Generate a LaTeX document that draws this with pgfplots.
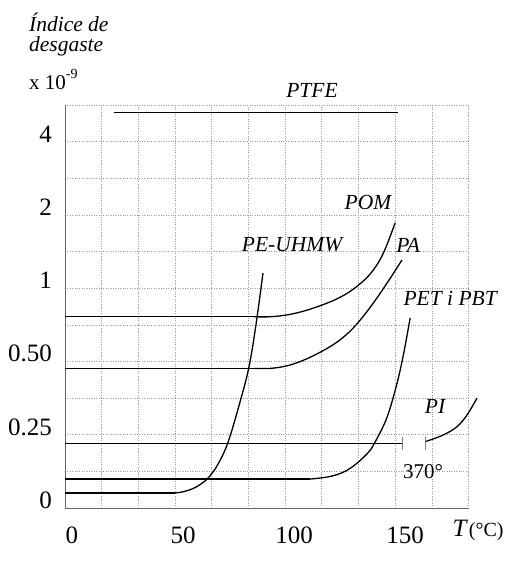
\documentclass[border=0pt]{standalone}
\usepackage{fontspec}
\setmainfont{Liberation Serif}
\usepackage{pgfplots}
\pgfplotsset{compat=1.18}

% y positions are in grid steps: 0 -> 0, 0.25 -> 2, 0.50 -> 4, 1 -> 6, 2 -> 8, 4 -> 10
\newcommand{\lab}{\fontsize{21.5}{26}\selectfont\itshape}

\begin{document}
\begin{tikzpicture}
\begin{axis}[
    width=403.5pt, height=403pt, scale only axis,
    xmin=-3.15, xmax=178.57, ymin=0, ymax=11,
    axis x line*=bottom, axis y line*=left,
    axis line style={-, draw=gray!80!black, line width=0.9pt},
    xtick={0,50,100,150}, xticklabels={0,50,100,150},
    ytick={0.22,2.21,4.23,6.23,8.22,10.19},
    yticklabels={0,0.25,0.50,1,2,4},
    minor xtick={-3.15,13.37,29.89,46.41,62.93,79.45,95.97,112.49,129.01,145.53,162.05,178.57},
    minor ytick={0,1,...,11},
    grid=minor,
    minor grid style={dotted, gray!80, line width=0.6pt},
    major tick length=0pt, minor tick length=0pt,
    ticklabel style={font=\fontsize{25}{30}\selectfont, inner sep=0pt},
    xticklabel style={anchor=north, yshift=-19pt},
    yticklabel style={anchor=east, xshift=-13pt},
    /pgf/number format/assume math mode=true,
    clip=false,
    flat/.style={black, line width=1.3pt, mark=none},
    curve/.style={black, line width=1.3pt, smooth, tension=0.6, mark=none},
    brk/.style={gray, line width=0.9pt, mark=none},
]
% PTFE
\addplot[flat] coordinates {(18.9,10.79) (146.8,10.79)};
% POM
\addplot[flat] coordinates {(-3.15,5.22) (89.2,5.22)};
\addplot[curve] coordinates {(82,5.22) (89.2,5.22) (96.8,5.27) (104.1,5.37) (111.7,5.52)
    (119.4,5.71) (126.6,5.97) (134.2,6.38) (140.1,6.94) (145.5,7.78)};
% PA
\addplot[flat] coordinates {(-3.15,3.81) (89.2,3.81)};
\addplot[curve] coordinates {(82,3.81) (89.2,3.81) (96.8,3.88) (104.1,4.03) (111.7,4.25)
    (119.4,4.53) (126.6,4.91) (134.2,5.47) (141.9,6.14) (148.6,6.77)};
% PE-UHMW
\addplot[flat] coordinates {(-3.15,0.41) (46.4,0.41)};
\addplot[curve] coordinates {(42,0.41) (46.4,0.41) (50.5,0.45) (54.5,0.53) (58.2,0.66)
    (61.6,0.84) (65.8,1.20) (70.3,1.80) (75.7,2.90) (79.7,3.85) (82.9,5.02) (86.0,6.41)};
% PET i PBT
\addplot[flat] coordinates {(-3.15,0.79) (107.2,0.79)};
\addplot[curve] coordinates {(100,0.79) (107.2,0.79) (117.6,0.88) (125.2,1.08) (132.9,1.48)
    (136.5,1.80) (141.9,2.48) (146.4,3.41) (149.4,4.23) (152.3,5.19)};
% PI
\addplot[flat] coordinates {(-3.15,1.77) (149.0,1.77)};
\addplot[curve] coordinates {(159.0,1.81) (167.1,1.99) (173.4,2.22) (177.9,2.54) (182.4,3.00)};
% break marks
\addplot[brk] coordinates {(149.0,1.58) (149.0,1.95)};
\addplot[brk] coordinates {(159.0,1.58) (159.0,1.95)};

\node[font=\lab] at (axis cs:108.1,11.41) {PTFE};
\node[font=\lab] at (axis cs:133.3,8.35) {POM};
\node[font=\lab] at (axis cs:99.1,7.18) {PE-UHMW};
\node[font=\lab] at (axis cs:151.4,7.18) {PA};
\node[font=\lab] at (axis cs:170.3,5.73) {PET i PBT};
\node[font=\lab] at (axis cs:163.5,2.78) {PI};
\node[font=\fontsize{21}{25}\selectfont] at (axis cs:158.1,0.98) {370°};

\node[font=\lab, anchor=west, inner sep=0pt] at (axis cs:-19.4,13.25) {Índice de};
\node[font=\lab, anchor=west, inner sep=0pt] at (axis cs:-19.4,12.61) {desgaste};
\node[font=\fontsize{21}{25}\selectfont, anchor=base west, inner sep=0pt] at (axis cs:-19.4,11.41)
    {x 10\raisebox{0.55em}{\fontsize{14}{16}\selectfont -9}};
\node[anchor=center, inner sep=0pt] at (axis cs:182.9,-0.62)
    {{\fontsize{25}{30}\selectfont\itshape T} {\fontsize{20}{24}\selectfont (°C)}};

\path (rel axis cs:0,0) ++(-65pt,-53pt) rectangle ++(519pt,561pt);
\end{axis}
\end{tikzpicture}
\end{document}
